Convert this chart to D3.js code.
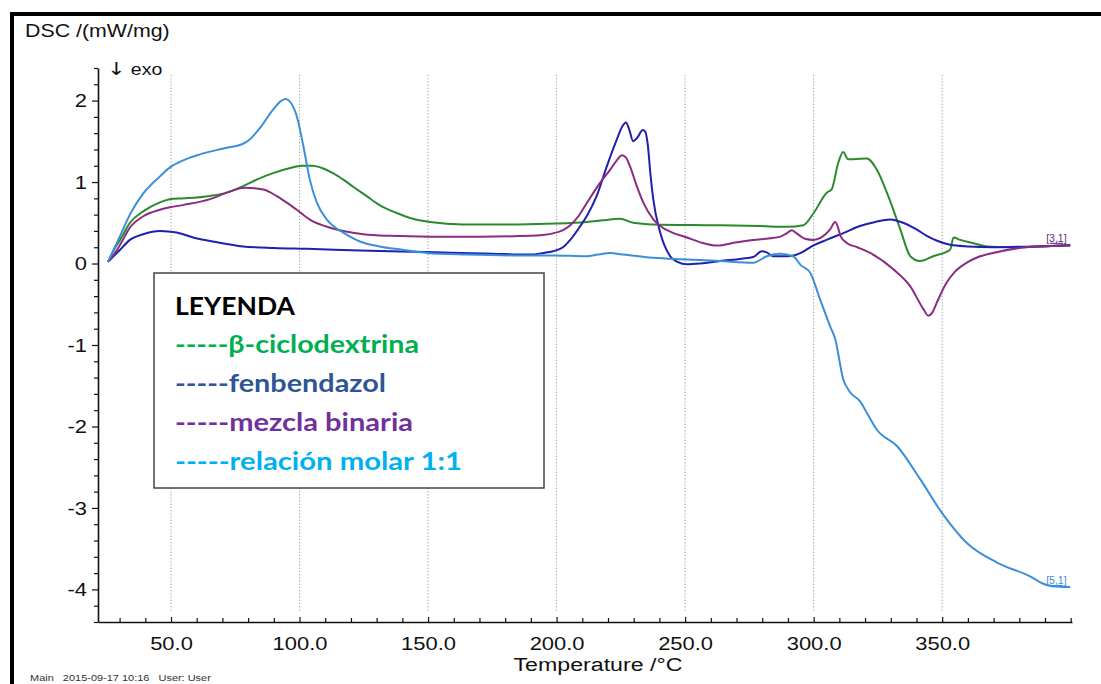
<!DOCTYPE html>
<html>
<head>
<meta charset="utf-8">
<script src="https://cdn.jsdelivr.net/npm/d3@7"></script>
<style>
    body { margin: 0; background: #fff; }
    svg text { font-family: "Liberation Sans", Arial, sans-serif; fill: #111; }
    .legend text { font-family: Lato, "Open Sans", sans-serif; font-weight: 700; }
    .grid line { stroke: #9a9a9a; stroke-dasharray: 1.2, 2; }
</style>
</head>
<body>
<div id="chart"></div>
<script>
// tick values
const tempTicks = [50, 100, 150, 200, 250, 300, 350];
const dscTicks = [-4, -3, -2, -1, 0, 1, 2];

// β-ciclodextrina
const cdTemp = [25.5, 28, 30.2, 34, 39.2, 45.7, 49.6, 55, 65.2, 71.7, 78, 84, 89.7, 96, 101, 105, 109, 113, 117, 121, 126, 131, 137.8, 144, 150.8, 163.6, 185, 200, 211.7, 218, 224.7, 229.8, 237.5, 263.6, 279.2, 289.7, 296, 300, 305.1, 307, 309.6, 311.5, 313.4, 315.4, 320.7, 324.6, 328.5, 333.7, 337.6, 341.5, 346.5, 353.1, 354.4, 357, 362.2, 367.4, 376.4, 390, 399.8];
const cdDsc = [0.02, 0.18, 0.29, 0.5, 0.64, 0.75, 0.79, 0.8, 0.83, 0.87, 0.95, 1.04, 1.11, 1.17, 1.2, 1.2, 1.17, 1.11, 1.03, 0.94, 0.83, 0.72, 0.62, 0.55, 0.51, 0.48, 0.48, 0.49, 0.51, 0.53, 0.55, 0.5, 0.48, 0.47, 0.46, 0.45, 0.47, 0.62, 0.87, 0.91, 1.24, 1.37, 1.28, 1.28, 1.29, 1.15, 0.87, 0.42, 0.09, 0.03, 0.09, 0.17, 0.32, 0.29, 0.25, 0.21, 0.2, 0.21, 0.23];

// fenbendazol
const fbTemp = [25.5, 28, 30.2, 34, 39.2, 45.7, 52.2, 58.6, 68, 78, 90, 102.8, 123.5, 149.5, 175, 189.7, 195, 198.6, 202.5, 205.3, 209, 211.7, 215.6, 219.5, 223.4, 225.5, 227, 228.2, 229.8, 231.5, 233.5, 234.5, 235.5, 236.5, 237.6, 240.3, 244.2, 247, 250.7, 256, 263.6, 272, 276.5, 279.8, 281.5, 284.2, 289.6, 295, 299.8, 305, 312, 318, 324, 329.8, 334.8, 340, 344, 348, 353.1, 360, 369.8, 385, 399.8];
const fbDsc = [0.02, 0.1, 0.17, 0.29, 0.36, 0.4, 0.38, 0.32, 0.26, 0.21, 0.19, 0.18, 0.16, 0.14, 0.12, 0.11, 0.13, 0.15, 0.2, 0.29, 0.45, 0.58, 0.83, 1.19, 1.52, 1.68, 1.73, 1.65, 1.5, 1.55, 1.64, 1.62, 1.45, 1.1, 0.79, 0.38, 0.09, 0.02, -0.01, 0.0, 0.03, 0.06, 0.08, 0.15, 0.14, 0.09, 0.09, 0.13, 0.22, 0.29, 0.38, 0.46, 0.51, 0.54, 0.5, 0.42, 0.34, 0.28, 0.23, 0.21, 0.2, 0.21, 0.22];

// mezcla binaria
const mbTemp = [25.5, 28, 30.2, 34, 39.2, 45.7, 49.6, 55, 65.2, 71.7, 78.7, 85.9, 91, 94.9, 98.9, 104, 111.9, 117, 124.8, 135, 150.8, 170, 189.7, 198.6, 202.5, 205.3, 208.5, 211.7, 216.9, 220.8, 223.5, 225.4, 227, 228.6, 231.2, 233.7, 237.7, 240.3, 245, 250.7, 256, 262.3, 270, 276.5, 283, 287, 289.5, 291.5, 293, 294.7, 297, 299.8, 303, 306.4, 308.4, 309.5, 310.4, 313, 317, 322, 331, 337.6, 342.7, 344.6, 346.2, 347.9, 351.8, 355, 359.6, 364, 369.8, 382.8, 399.8];
const mbDsc = [0.02, 0.12, 0.23, 0.44, 0.58, 0.66, 0.69, 0.72, 0.79, 0.87, 0.93, 0.91, 0.83, 0.75, 0.66, 0.54, 0.44, 0.4, 0.36, 0.34, 0.33, 0.33, 0.34, 0.37, 0.41, 0.47, 0.58, 0.74, 0.99, 1.15, 1.27, 1.33, 1.3, 1.19, 0.95, 0.75, 0.54, 0.46, 0.38, 0.32, 0.26, 0.22, 0.26, 0.29, 0.31, 0.33, 0.37, 0.41, 0.38, 0.34, 0.3, 0.29, 0.32, 0.42, 0.51, 0.44, 0.34, 0.25, 0.2, 0.13, -0.07, -0.28, -0.56, -0.64, -0.6, -0.48, -0.23, -0.1, 0.01, 0.08, 0.13, 0.2, 0.22];

// relación molar 1:1
const rmTemp = [25.5, 30.2, 34, 39.2, 45.7, 49.6, 55, 61.3, 70, 78, 80.5, 85, 89.7, 93, 94.7, 96.5, 98.9, 101.5, 104, 106.7, 110.6, 114, 117, 123.5, 131, 140, 149.5, 165, 183, 198.6, 211.7, 216, 220.8, 226, 237.5, 250.7, 263.6, 276.5, 281.8, 287, 292, 295, 298.6, 302.5, 306.4, 308.4, 311.5, 314.2, 318, 321, 324.6, 332.4, 341.5, 349.9, 359.6, 371.3, 384.2, 389.3, 393, 399.8];
const rmDsc = [0.02, 0.34, 0.6, 0.86, 1.07, 1.18, 1.27, 1.34, 1.41, 1.47, 1.52, 1.68, 1.89, 2.0, 2.02, 1.98, 1.81, 1.44, 1.03, 0.75, 0.54, 0.44, 0.38, 0.27, 0.21, 0.17, 0.13, 0.11, 0.1, 0.1, 0.09, 0.11, 0.13, 0.11, 0.07, 0.05, 0.03, 0.01, 0.09, 0.12, 0.09, -0.02, -0.11, -0.44, -0.77, -0.93, -1.42, -1.58, -1.69, -1.85, -2.04, -2.24, -2.65, -3.06, -3.43, -3.67, -3.84, -3.93, -3.96, -3.97];

const legendNames = ["β-ciclodextrina", "fenbendazol", "mezcla binaria", "relación molar 1:1"];

class DscChart {
    constructor(parentElement) {
        this.parentElement = parentElement;
        this.series = [
            {temp: cdTemp, dsc: cdDsc, color: "#2b8a2b"},
            {temp: fbTemp, dsc: fbDsc, color: "#1f1fb0"},
            {temp: mbTemp, dsc: mbDsc, color: "#8a2c82"},
            {temp: rmTemp, dsc: rmDsc, color: "#3a8fd8"}
        ];
        this.legendColors = ["#00b050", "#2f5597", "#7030a0", "#00b0f0"];
        this.initVis();
    }

    initVis() {
        let vis = this;
        vis.width = 1101;
        vis.height = 684;
        vis.sx = 1.22; // the original export is stretched horizontally

        vis.svg = d3.select("#" + vis.parentElement).append("svg")
            .attr("width", vis.width)
            .attr("height", vis.height);

        // outer frame (thick black on top and left)
        vis.svg.append("rect").attr("x", 10).attr("y", 12).attr("width", vis.width - 10).attr("height", 4).attr("fill", "#000");
        vis.svg.append("rect").attr("x", 10).attr("y", 12).attr("width", 4).attr("height", vis.height - 12).attr("fill", "#000");

        vis.x = d3.scaleLinear().domain([21.6, 400.5]).range([98, 1072]);
        vis.y = d3.scaleLinear().domain([-4.4, 2.4]).range([622, 68]);

        // dotted vertical grid
        vis.svg.append("g").attr("class", "grid")
            .selectAll("line").data(tempTicks).enter().append("line")
            .attr("x1", d => vis.x(d)).attr("x2", d => vis.x(d))
            .attr("y1", 75).attr("y2", 612);

        vis.updateVis();
    }

    stretch(sel, x, y) {
        sel.attr("transform", `translate(${x},${y}) scale(${this.sx},1)`);
        return sel;
    }

    updateVis() {
        let vis = this;

        // minor ticks
        let minorX = d3.range(30, 401, 10).filter(d => !tempTicks.includes(d));
        let minorY = d3.range(-44, 25, 2).map(d => d / 10).filter(d => !dscTicks.includes(d));

        vis.svg.append("g")
            .attr("transform", `translate(0,${vis.y(-4.4)})`)
            .call(d3.axisBottom(vis.x).tickValues(minorX).tickSize(-4).tickFormat(""))
            .call(g => g.select(".domain").remove());
        vis.svg.append("g")
            .attr("transform", `translate(${vis.x(21.6)},0)`)
            .call(d3.axisLeft(vis.y).tickValues(minorY).tickSize(4).tickFormat(""))
            .call(g => g.select(".domain").remove());

        // main axes
        vis.xAxisGroup = vis.svg.append("g")
            .attr("transform", `translate(0,${vis.y(-4.4)})`)
            .call(d3.axisBottom(vis.x).tickValues(tempTicks).tickSize(-5).tickSizeOuter(0).tickFormat(d3.format(".1f")));
        vis.xAxisGroup.selectAll("text")
            .attr("y", 0).attr("dy", 0)
            .attr("transform", `translate(0,28) scale(${vis.sx},1)`)
            .style("font-size", "18px");

        vis.yAxisGroup = vis.svg.append("g")
            .attr("transform", `translate(${vis.x(21.6)},0)`)
            .call(d3.axisLeft(vis.y).tickValues(dscTicks).tickSize(6).tickSizeOuter(0).tickFormat(d => String(d)));
        vis.yAxisGroup.selectAll("text")
            .attr("x", 0).attr("dy", "0.35em")
            .attr("transform", `translate(-11,0) scale(${vis.sx},1)`)
            .style("font-size", "18px");

        vis.svg.selectAll(".domain").attr("stroke", "#111").attr("stroke-width", 1.6);
        vis.svg.selectAll(".tick line").attr("stroke", "#111").attr("stroke-width", 1.2);

        // axis titles and notes
        vis.stretch(vis.svg.append("text").text("DSC /(mW/mg)").style("font-size", "17.5px"), 25, 37);
        let exo = vis.stretch(vis.svg.append("text").style("font-size", "16px"), 107, 75);
        exo.append("tspan").text("↓").style("font-family", "'DejaVu Sans'").style("font-size", "18px");
        exo.append("tspan").text(" exo");
        vis.stretch(vis.svg.append("text").text("Temperature /°C").attr("text-anchor", "middle").style("font-size", "19px"), 598, 671);
        vis.stretch(vis.svg.append("text").text("Main   2015-09-17 10:16   User: User")
            .style("white-space", "pre").style("font-size", "9px").style("fill", "#333"), 30, 681);

        // curves
        let line = d3.line()
            .x(d => vis.x(d[0]))
            .y(d => vis.y(d[1]))
            .curve(d3.curveMonotoneX);

        vis.svg.append("g").selectAll("path")
            .data(vis.series).enter().append("path")
            .attr("d", d => line(d.temp.map((t, i) => [t, d.dsc[i]])))
            .attr("fill", "none")
            .attr("stroke", d => d.color)
            .attr("stroke-width", 2)
            .attr("stroke-linejoin", "round");

        // end labels
        let cdEnd = cdTemp.length - 1, rmEnd = rmTemp.length - 1;
        vis.svg.append("text").text("[3,1]")
            .attr("x", vis.x(cdTemp[cdEnd]) - 24).attr("y", vis.y(cdDsc[cdEnd]) - 3)
            .style("font-size", "10.5px").style("fill", "#5b2a78").style("text-decoration", "underline");
        vis.svg.append("text").text("[5,1]")
            .attr("x", vis.x(rmTemp[rmEnd]) - 24).attr("y", vis.y(rmDsc[rmEnd]) - 3)
            .style("font-size", "10.5px").style("fill", "#3a8fd8").style("text-decoration", "underline");

        // legend box
        let legend = vis.svg.append("g").attr("class", "legend");
        legend.append("rect")
            .attr("x", 154).attr("y", 273).attr("width", 390).attr("height", 215)
            .attr("fill", "#fff").attr("stroke", "#444").attr("stroke-width", 1.5);

        legend.append("text").text("LEYENDA")
            .attr("x", 175).attr("y", 315)
            .attr("textLength", 120).attr("lengthAdjust", "spacingAndGlyphs")
            .style("font-size", "25px").style("fill", "#000");

        let widths = [244, 211, 238, 287];
        legend.selectAll(".item")
            .data(legendNames).enter().append("text")
            .attr("class", "item")
            .text(d => "-----" + d)
            .attr("x", 175)
            .attr("y", (d, i) => 353 + i * 39)
            .attr("textLength", (d, i) => widths[i]).attr("lengthAdjust", "spacingAndGlyphs")
            .style("font-size", "25px")
            .style("fill", (d, i) => vis.legendColors[i]);
    }
}

new DscChart("chart");
</script>
</body>
</html>
